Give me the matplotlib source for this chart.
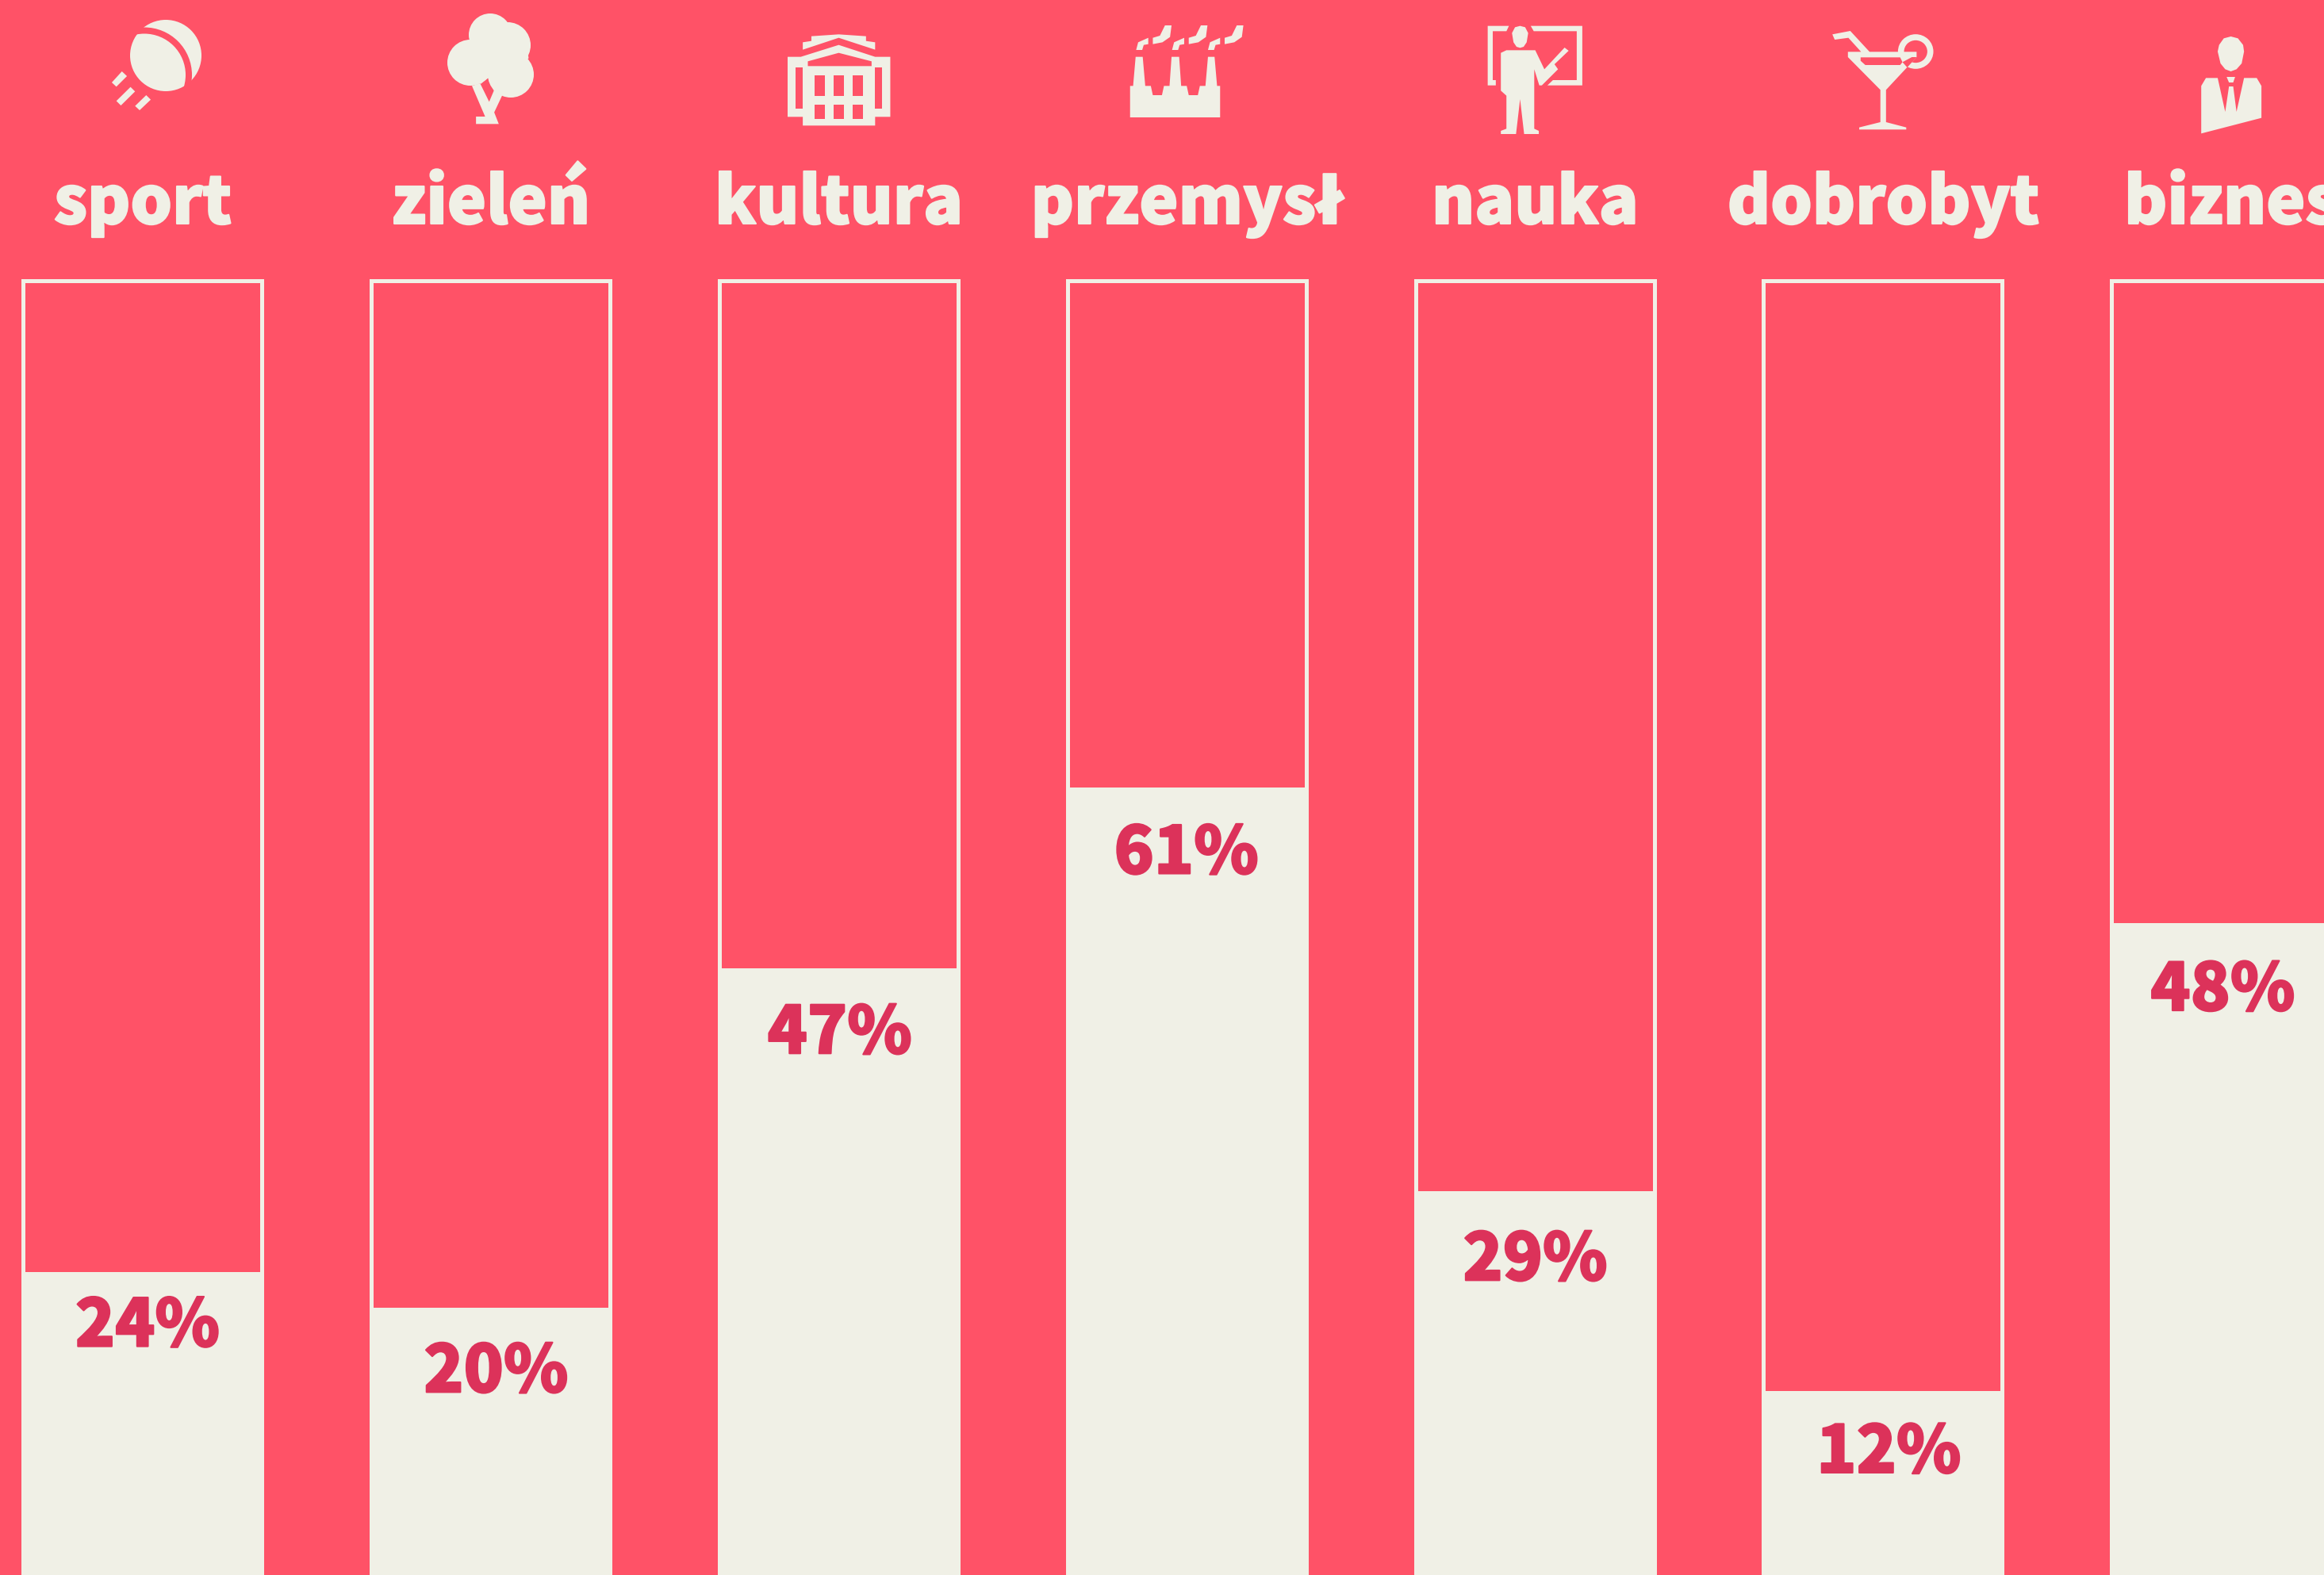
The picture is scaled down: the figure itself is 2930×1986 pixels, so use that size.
import matplotlib
matplotlib.use("Agg")
import matplotlib.pyplot as plt
from matplotlib.patches import Polygon, Ellipse
import matplotlib.patheffects as pe

# ---- data ----
categories = ["sport", "zieleń", "kultura", "przemysł", "nauka", "dobrobyt", "biznes"]
printed_values = [24, 20, 47, 61, 29, 12, 48]
# height of the cream part of each column (column = 100)
fill_levels = [23.4, 20.6, 46.8, 60.8, 29.6, 14.2, 50.3]
label_dx = [6, 6.5, 1, -1, 0, 7, -11]
label_drop = [94, 106, 107, 109, 112, 103, 110]

BG = "#FF5267"
CREAM = "#F0F0E6"
INK = "#DC325A"
FONT = ["Noto Sans CJK JP", "Open Sans"]

W, H = 2930, 1986
fig = plt.figure(figsize=(W / 100, H / 100), dpi=100, facecolor=BG)
ax = fig.add_axes([0, 0, 1, 1], facecolor=BG)
PITCH = 438.9
ax.set_xlim(-180 / PITCH, (W - 180) / PITCH)
ax.set_ylim(0, H / 16.34)
ax.axis("off")

xs = list(range(len(categories)))
outer = 306 / PITCH
inner = 296 / PITCH
ax.bar(xs, [100] * len(xs), width=outer, color=CREAM, linewidth=0)
ax.bar(xs, [100 - 5 / 16.34 - f for f in fill_levels], bottom=fill_levels,
       width=inner, color=BG, linewidth=0)

for x, name, val, lev, dx, dr in zip(xs, categories, printed_values, fill_levels, label_dx, label_drop):
    ax.annotate(f"{val}%", (x, lev), xytext=(dx, -dr), textcoords="offset pixels",
                ha="center", va="baseline", family=FONT, weight=900, fontsize=59.5, color=INK,
                path_effects=[pe.withStroke(linewidth=1.5, foreground=INK)])
    ax.annotate(name, (x, 100), xytext=(0, 70), textcoords="offset pixels",
                ha="center", va="baseline", family=FONT, weight=900, fontsize=59.5, color=CREAM,
                annotation_clip=False,
                path_effects=[pe.withStroke(linewidth=1.5, foreground=CREAM)])

# ---- pictograms, drawn in pixel space ----
ic = fig.add_axes([0, 0, 1, 1], facecolor="none")
ic.set_xlim(0, W)
ic.set_ylim(H, 0)
ic.axis("off")

def poly(pts, x0=0, sx=1.568, c=CREAM):
    ic.add_patch(Polygon([(x0 + x / sx, y / 3) for x, y in pts], closed=True, fc=c, ec="none"))

def ell(x, y, rx, ry=None, c=CREAM):
    p = Ellipse((x, y), 2 * rx, 2 * (ry or rx), fc=c, ec="none")
    ic.add_patch(p)
    return p

# sport
ell(209, 70, 45)
ell(182, 94.5, 60, c=BG)
ball = ell(209, 70, 45)
clip = Ellipse((182, 94.5), 104, 104, fc="none", ec="none", transform=ic.transData)
ball.set_clip_path(clip)
for p in ([(241,270),(251,288),(230,328),(221,312)],
          [(258,329),(267,346),(239,399),(230,382)],
          [(289,360),(298,377),(276,417),(267,401)]):
    poly(p)

# zieleń
for (x, y, r) in [(618, 44, 27), (640, 57, 29), (593, 79, 29), (644, 94, 29)]:
    ell(x, y, r)
poly([(930,120),(1040,150),(1045,220),(1000,320),(977,345),(965,295),(950,318),(930,200)])
poly([(933,325),(949,315),(967,385),(977,340),(993,360),(977,425),(986,469),(941,469),(941,441),(959,441)])

# kultura
X = 1000
poly([(19,160),(36,155),(36,137),(90,130),(144,137),(144,155),(162,160),(162,188),(90,143),(19,188)], X)
poly([(-11,215),(15,215),(90,170),(162,215),(192,215),(192,442),(162,442),(162,475),(19,475),(19,442),(-11,442)], X)
poly([(29,232),(90,200),(155,232),(155,250),(29,250)], X, c=BG)
poly([(5,254),(19,254),(19,410),(5,410)], X, c=BG)
poly([(162,254),(176,254),(176,410),(162,410)], X, c=BG)
for a, b in [(42,63),(80,100),(118,138)]:
    poly([(a,286),(b,286),(b,364),(a,364)], X, c=BG)
    poly([(a,397),(b,397),(b,449),(a,449)], X, c=BG)

# przemysł
poly([(666,325),(672,325),(677,215),(691,215),(696,325),(707,325),(711,360),(729,360),(733,325),(744,325),
      (748,215),(763,215),(767,325),(778,325),(782,360),(800,360),(804,325),(815,325),(820,215),(833,215),
      (838,325),(844,325),(844,444),(666,444)], X)
for s in (0, 71, 142):
    poly([(678+s,189),(682+s,160),(702+s,143),(702+s,167),(693+s,170),(690+s,189)], X)
    poly([(711+s,143),(725+s,135),(735+s,96),(748+s,96),(745+s,140),(730+s,160),(711+s,167)], X)

# nauka
poly([(1373,98),(1415,98),(1410,118),(1383,118),(1383,303),(1389,303),(1389,323),(1373,323)], X)
poly([(1458,98),(1560,98),(1560,323),(1491,323),(1502,303),(1549,303),(1549,118),(1464,118)], X)
poly([(1437,98),(1447,103),(1453,125),(1450,160),(1444,177),(1437,181),(1430,177),(1424,160),(1421,125),(1427,103)], X)
poly([(1410,190),(1467,190),(1485,262),(1525,180),(1533,192),(1505,243),(1512,262),(1480,323),(1475,323),
      (1465,262),(1465,487),(1474,495),(1474,507),(1445,507),(1437,375),(1429,507),(1399,507),(1399,495),
      (1410,487),(1410,362),(1399,343),(1399,200)], X)

# dobrobyt
X3, S3 = 2000, 1.686
ic.add_patch(Ellipse((X3 + 700 / S3, 65), 37, 36, fc="none", ec=CREAM, lw=5.5))
poly([(556,196),(584,196),(557,143),(528,150),(523,130),(561,117),(602,196),(702,196),(702,216),(637,340),
      (637,462),(680,482),(680,490),(580,490),(580,482),(625,462),(625,340),(556,216)], X3, S3)
poly([(583,217),(667,217),(672,235),(667,246),(593,246),(583,230)], X3, S3, c=BG)
poly([(672,235),(692,216),(702,216),(682,255)], X3, S3, c=BG)

# biznes
poly([(1370,138),(1385,145),(1396,170),(1398,195),(1393,240),(1382,262),(1370,270),(1358,262),(1348,240),
      (1342,195),(1345,170),(1355,145)], X3, S3)
poly([(1361,291),(1379,291),(1375,312),(1366,312)], X3, S3)
poly([(1307,325),(1317,295),(1342,295),(1358,423),(1366,327),(1375,327),(1382,423),(1398,295),(1425,295),
      (1435,325),(1435,446),(1307,505)], X3, S3)

fig.savefig("out.png", dpi=100, facecolor=BG)
